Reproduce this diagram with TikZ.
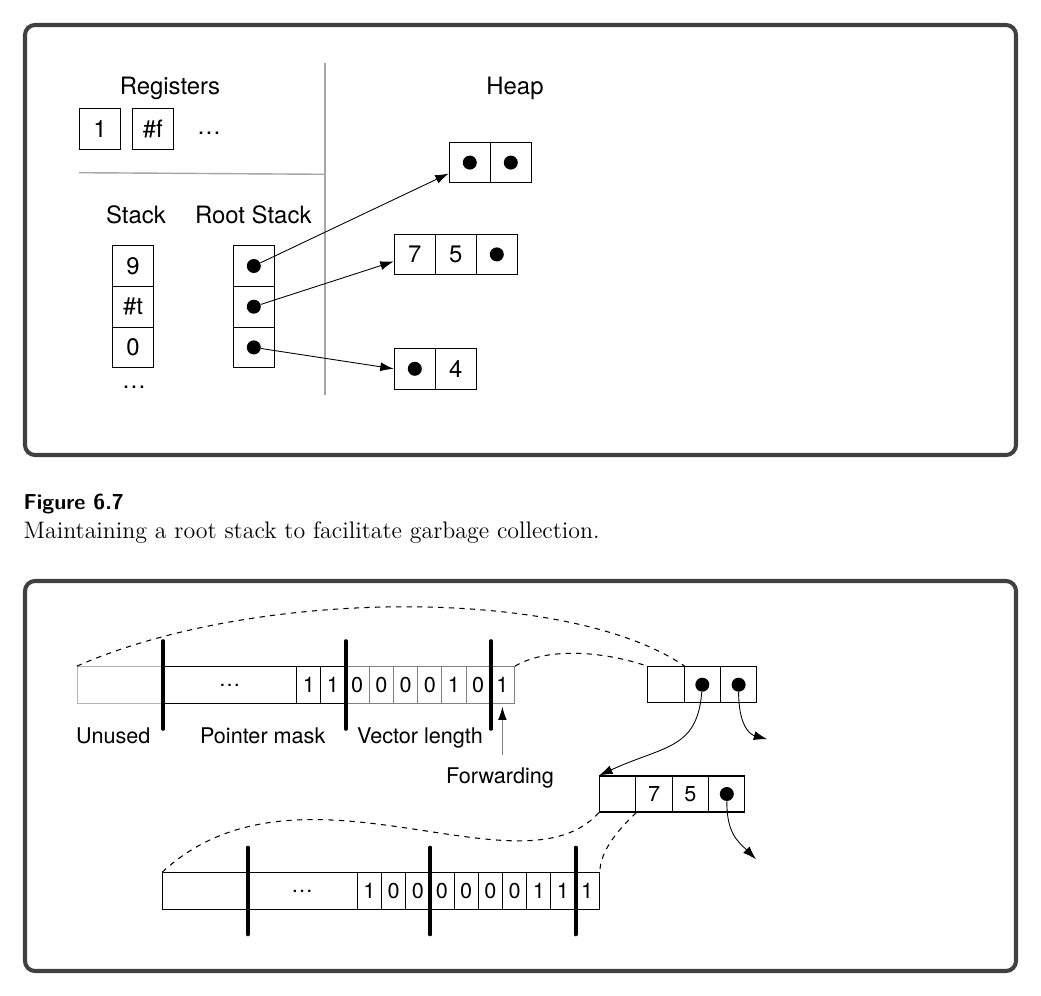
\documentclass[tikz,border=0pt]{standalone}
\usepackage{fontspec}
\newfontfamily\helv{TeX Gyre Heros}
\usetikzlibrary{arrows.meta}

\begin{document}
\begin{tikzpicture}[x=0.02cm, y=-0.02cm,
    frame/.style={draw=black!75, line width=2.3pt, rounded corners=0.2cm},
    txt/.style={font=\helv\fontsize{13.6}{16}\selectfont, inner sep=0},
    small/.style={font=\helv\fontsize{12.3}{14}\selectfont, inner sep=0},
    cell/.style={rectangle, draw, line width=0.6pt, inner sep=0, minimum width=0.82cm, minimum height=0.814cm, txt},
    bit/.style={rectangle, draw, line width=0.6pt, inner sep=0, minimum width=0.484cm, minimum height=0.732cm, small},
    obj/.style={rectangle, draw, line width=0.6pt, inner sep=0, minimum width=0.726cm, minimum height=0.72cm, small},
    dot/.style={circle, fill, inner sep=0, minimum size=0.28cm},
    ptr/.style={line width=0.5pt, -{Latex[length=0.27cm,width=0.18cm]}},
    link/.style={line width=0.6pt, dashed},
    bar/.style={line width=2.3pt, line cap=round}]
    \useasboundingbox (0,0) rectangle (1041,996);
    \draw [frame] (25,25) rectangle (1016,455);
    \draw [frame] (25,581) rectangle (1016,971);

    \draw [gray!70, line width=0.8pt] (325,63) -- (325,395);
    \draw [gray!70, line width=0.8pt] (79,172.7) -- (325,174.3);
    \node [txt, anchor=base] at (170,95) {Registers};
    \node [txt, anchor=base] at (515,95) {Heap};
    \node [txt, anchor=base] at (136,223.3) {Stack};
    \node [txt, anchor=base] at (253.3,223.3) {Root Stack};
    \node [cell] (r1) at (100,129) {1};
    \node [cell] (r2) at (152.8,129) {\#f};
    \node [txt] at (209,133) {\ldots};
    \foreach \v [count=\i] in {9,\#t,0} {
      \node [cell] (s\i) at (133, 225.3+40.7*\i) {\v};
    }
    \node [txt] at (134,387) {\ldots};
    \foreach \i in {1,2,3} {
      \node [cell] (rs\i) at (253.8, 225.3+40.7*\i) {};
      \node [dot] (rd\i) at (rs\i) {};
    }
    \node [cell] (ha1) at (469.8,162.6) {};
    \node [cell] (ha2) at (510.8,162.6) {};
    \node [dot] at (ha1) {};
    \node [dot] at (ha2) {};
    \node [cell] (hb1) at (414.8,254.4) {7};
    \node [cell] (hb2) at (455.8,254.4) {5};
    \node [cell] (hb3) at (496.8,254.4) {};
    \node [dot] at (hb3) {};
    \node [cell] (hc1) at (414.8,368.8) {};
    \node [cell] (hc2) at (455.8,368.8) {4};
    \node [dot] at (hc1) {};
    \draw [ptr] (rd1) -- ([yshift=0.2cm]ha1.south west);
    \draw [ptr] (rd2) -- ([yshift=-0.14cm]hb1.west);
    \draw [ptr] (rd3) -- (hc1.west);

    \node [bit, minimum width=1.708cm, draw=gray!60] (tu) at (120,685) {};
    \node [bit, minimum width=2.68cm] (tp) at (229.7,685) {\ldots};
    \foreach \v [count=\i] in {1,1} {
      \node [bit] (t\i) at (284.6+24.2*\i, 685) {\v};
    }
    \foreach \v [count=\i from 3] in {0,0,0,0,1,0,1} {
      \node [bit, draw=gray] (t\i) at (284.6+24.2*\i, 685) {\v};
    }
    \foreach \n in {tu,t2,t8} {
      \draw [bar] ([yshift=0.5cm]\n.north east) -- ([yshift=-0.5cm]\n.south east);
    }
    \node [small, anchor=base] at (113.3,743.3) {Unused};
    \node [small, anchor=base] at (262.7,743.3) {Pointer mask};
    \node [small, anchor=base] at (420,743.3) {Vector length};
    \node [small, anchor=base] (fw) at (500,783) {Forwarding};
    \draw [gray, line width=0.5pt, -{Latex[length=0.26cm,width=0.17cm,black]}] ([yshift=-1.03cm]t9.south) -- ([yshift=-0.06cm]t9.south);

    \foreach \i in {1,2,3} {
      \node [obj] (a\i) at (629.7+36.3*\i, 684.7) {};
    }
    \node [dot] (ad2) at (a2) {};
    \node [dot] (ad3) at (a3) {};
    \node [obj] (b1) at (617.7,794) {};
    \node [obj] (b2) at (654,794) {7};
    \node [obj] (b3) at (690.4,794) {5};
    \node [obj] (b4) at (726.8,794) {};
    \node [dot] (bd4) at (b4) {};
    \coordinate (e1) at (767.3,739.3);
    \coordinate (e2) at (756,859.3);
    \draw [ptr] (ad2) .. controls +(-5,65) and +(65,-30) .. (b1.north west);
    \draw [ptr] (ad3) .. controls +(0,40) and +(-18,-5) .. (e1);
    \draw [ptr] (bd4) .. controls +(0,40) and +(-18,-18) .. (e2);

    \node [bit, minimum width=1.692cm] (bu) at (205,891) {};
    \node [bit, minimum width=2.2cm] (bp) at (302.3,891) {\ldots};
    \foreach \v [count=\i] in {1,0,0,0,0,0,0,1,1,1} {
      \node [bit] (c\i) at (345.2+24.2*\i, 891) {\v};
    }
    \foreach \n in {bu,c3,c9} {
      \draw [bar] ([yshift=0.49cm]\n.north east) -- ([yshift=-0.49cm]\n.south east);
    }

    \draw [link] (tu.north west) .. controls (257,587) and (570,587) .. (a1.north east);
    \draw [link] (t9.north east) .. controls (545,648) and (600,650) .. (a1.north west);
    \draw [link] (bu.north west) .. controls (300,745) and (520,900) .. (b1.south west);
    \draw [link] (b1.south east) .. controls (620,828) and (600,850) .. (c10.north east);

    \node [anchor=base west, inner sep=0, font=\sffamily\bfseries\fontsize{12.3}{14}\selectfont] at (23.3,510) {Figure 6.7};
    \node [anchor=base west, inner sep=0, font=\fontsize{13.6}{16}\selectfont] at (23.3,539) {Maintaining a root stack to facilitate garbage collection.};
  \end{tikzpicture}
\end{document}
